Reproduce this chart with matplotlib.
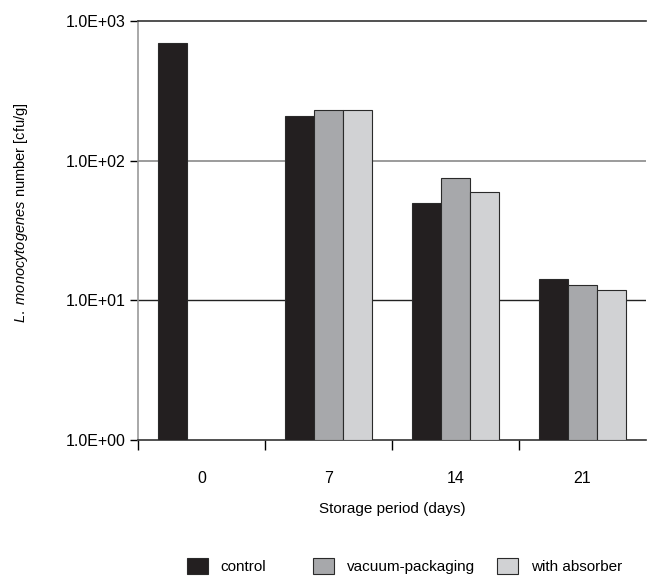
import numpy as np
import matplotlib.pyplot as plt
from matplotlib.ticker import FixedLocator, FuncFormatter, NullLocator

# data
days = ['0', '7', '14', '21']
control = [700, 209, 50, 14.3]
vacuum = [np.nan, 230, 75, 12.9]
absorber = [np.nan, 230, 60, 11.8]

series = ['control', 'vacuum-packaging', 'with absorber']
colors = ['#231f20', '#a7a8ab', '#d1d2d4']

plt.rcParams['font.family'] = ['Liberation Sans', 'DejaVu Sans']
plt.rcParams['mathtext.fontset'] = 'custom'
plt.rcParams['mathtext.rm'] = 'Liberation Sans'
plt.rcParams['mathtext.it'] = 'Liberation Sans:italic'

fig = plt.figure(figsize=(6.47, 5.76), dpi=100)
ax = fig.add_axes([0.2133, 0.236, 0.785, 0.7275])

x = np.arange(len(days))
w = 0.228
bars = []
for i, (vals, name, c) in enumerate(zip([control, vacuum, absorber], series, colors)):
    h = np.array(vals, dtype=float) - 1
    b = ax.bar(x + (i - 1) * w, h, w, bottom=1, color=c, edgecolor='#2a2a2a',
               linewidth=0.8, label=name, zorder=3)
    bars.append(b)

ax.set_yscale('log')
ax.set_ylim(1, 1000)
ax.set_xlim(-0.5, 3.5)
ax.axhline(100, color='#8a8a8a', lw=1.2, zorder=1)
ax.axhline(10, color='#222222', lw=1.0, zorder=1)

ax.yaxis.set_major_locator(FixedLocator([1, 10, 100, 1000]))
ax.yaxis.set_minor_locator(NullLocator())
ax.yaxis.set_major_formatter(FuncFormatter(lambda v, p: '1.0E+%02d' % round(np.log10(v))))
ax.tick_params(axis='y', direction='out', length=6, width=1, labelsize=11.5, pad=3)

ax.set_xticks(x)
ax.set_xticklabels(days)
ax.set_xticks(np.arange(-0.5, 3.5, 1), minor=True)
ax.tick_params(axis='x', which='major', length=0, labelsize=11.5, pad=22)
ax.tick_params(axis='x', which='minor', direction='out', length=7, width=1)

ax.spines['right'].set_visible(False)
ax.spines['top'].set_color('#333333')
ax.spines['top'].set_linewidth(1.2)
ax.spines['left'].set_color('#999999')
ax.spines['left'].set_linewidth(1.2)
ax.spines['bottom'].set_color('#333333')
ax.spines['bottom'].set_linewidth(1.2)

ax.set_xlabel('Storage period (days)', fontsize=11, labelpad=12)
fig.text(0.033, 0.63, r'$\it{L.\ monocytogenes}$ number [cfu/g]', rotation=90,
         ha='center', va='center', fontsize=10.5)

# legend entries placed one by one, as in the reference
legend_x = [187, 313, 497]
for b, name, lx in zip(bars, series, legend_x):
    leg = fig.legend([b], [name], loc='center left',
                     bbox_to_anchor=(lx / 647, 1 - 566 / 576), frameon=False,
                     fontsize=11, handlelength=1.4, handleheight=1.3,
                     handletextpad=0.8, borderpad=0, borderaxespad=0)

fig.savefig('out.png', dpi=100)
